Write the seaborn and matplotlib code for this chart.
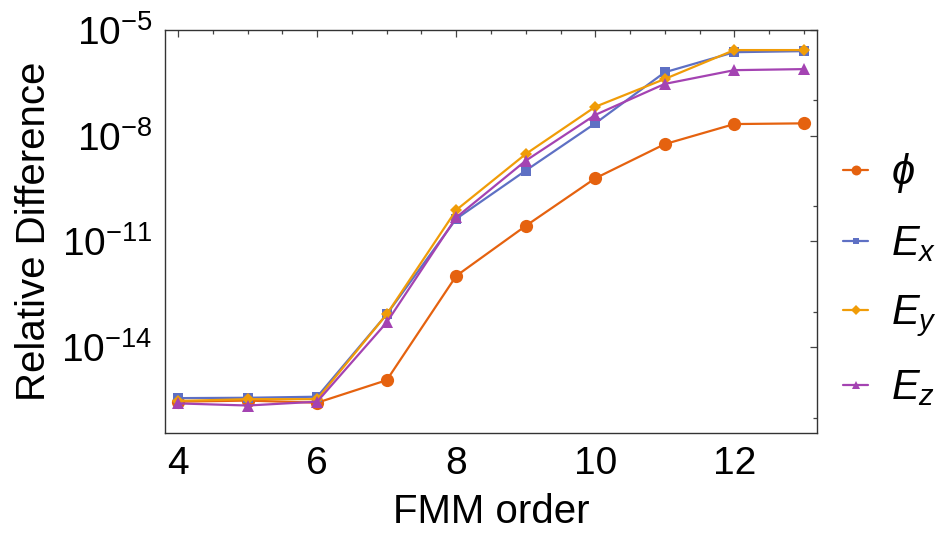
import numpy as np
import pandas as pd
import seaborn as sns
import matplotlib
matplotlib.use("Agg")
import matplotlib.pyplot as plt
from matplotlib.lines import Line2D
from matplotlib.ticker import FixedLocator, FuncFormatter

# ---- data (log10 of relative difference) ----
orders = [4, 5, 6, 7, 8, 9, 10, 11, 12, 13]
phi_log = [-15.55, -15.52, -15.58, -14.94, -11.98, -10.56, -9.21, -8.24, -7.67, -7.65]
ex_log = [-15.45, -15.44, -15.41, -13.07, -10.36, -8.99, -7.65, -6.20, -5.63, -5.60]
ey_log = [-15.53, -15.48, -15.48, -13.07, -10.11, -8.52, -7.18, -6.39, -5.57, -5.57]
ez_log = [-15.60, -15.66, -15.55, -13.30, -10.32, -8.71, -7.41, -6.53, -6.14, -6.11]
series_names = [r"$\phi$", r"$E_x$", r"$E_y$", r"$E_z$"]
y_major_exp = [-5, -8, -11, -14]
y_minor_exp = [-7, -10, -13, -16]
x_major = [4, 6, 8, 10, 12]

sns.set_theme(style="white")
plt.rcParams["font.family"] = ["Liberation Sans", "DejaVu Sans"]
plt.rcParams["mathtext.fontset"] = "custom"
plt.rcParams["mathtext.rm"] = "Liberation Sans"
plt.rcParams["mathtext.it"] = "Liberation Sans:italic"
plt.rcParams["mathtext.bf"] = "Liberation Sans:bold"
plt.rcParams["text.color"] = "black"
plt.rcParams["axes.labelcolor"] = "black"

colors = ["#E5620F", "#5E70C4", "#F09C08", "#A443B2"]
markers = ["o", "s", "D", "^"]
msizes = [9.5, 6.5, 6.5, 8]

frames = []
for name, vals in zip(series_names, [phi_log, ex_log, ey_log, ez_log]):
    frames.append(pd.DataFrame({"order": orders, "val": 10.0 ** np.array(vals), "series": name}))
df = pd.concat(frames, ignore_index=True)

fig = plt.figure(figsize=(9.38, 5.37), dpi=100)
ax = fig.add_axes([165 / 938, 1 - 433 / 537, (817 - 165) / 938, (433 - 30) / 537])

for name, c, m, ms in zip(series_names, colors, markers, msizes):
    sub = df[df["series"] == name]
    sns.lineplot(data=sub, x="order", y="val", ax=ax, color=c, marker=m,
                 markersize=ms, markeredgewidth=0, linewidth=1.6, legend=False)

ax.set_yscale("log")
ax.set_xlim(3.81, 13.19)
ax.set_ylim(10 ** -16.44, 1e-5)

ax.yaxis.set_major_locator(FixedLocator([10.0 ** e for e in y_major_exp]))
ax.yaxis.set_minor_locator(FixedLocator([10.0 ** e for e in y_minor_exp]))
ax.yaxis.set_major_formatter(FuncFormatter(lambda v, p: r"$10^{%d}$" % int(round(np.log10(v)))))
ax.yaxis.set_minor_formatter(FuncFormatter(lambda v, p: ""))
ax.xaxis.set_major_locator(FixedLocator(x_major))
ax.xaxis.set_minor_locator(FixedLocator(np.arange(3.5, 13.6, 0.5)))

ax.tick_params(axis="both", which="both", direction="in", top=True, right=True,
               colors="#444444", labelcolor="black", width=0.9)
ax.tick_params(axis="both", which="major", length=5, labelsize=28, pad=9)
ax.tick_params(axis="both", which="minor", length=3)
for s in ax.spines.values():
    s.set_color("#333333")
    s.set_linewidth(1.0)

ax.set_xlabel("FMM order", fontsize=29, labelpad=8, color="black")
ax.set_ylabel("Relative Difference", fontsize=29, labelpad=6, color="black")

handles = [Line2D([0], [0], color=c, marker=m, markersize=ms * 0.75, markeredgewidth=0, linewidth=1.6)
           for c, m, ms in zip(colors, markers, msizes)]
ax.legend(handles, series_names, loc="center left", bbox_to_anchor=(1.04, 0.38),
          frameon=False, fontsize=30, handlelength=0.6, handletextpad=0.55,
          labelspacing=0.7, borderpad=0, borderaxespad=0)

fig.savefig("out.png", dpi=100)
